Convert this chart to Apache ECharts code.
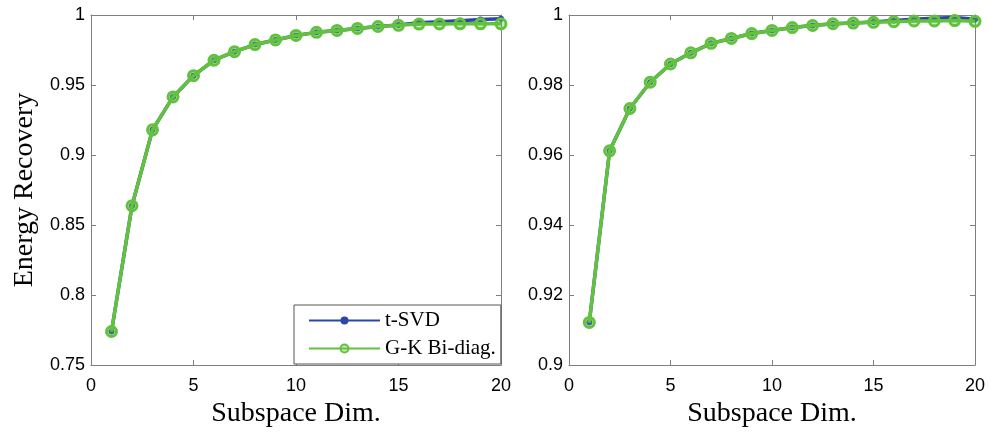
<!DOCTYPE html>
<html>
<head>
<meta charset="utf-8">
<script src="https://cdn.jsdelivr.net/npm/echarts@6/dist/echarts.min.js"></script>
<style>
  html, body { margin: 0; padding: 0; background: #fff; }
  #chart { width: 988px; height: 433px; }
</style>
</head>
<body>
<div id="chart"></div>
<script>
const dims = [1, 2, 3, 4, 5, 6, 7, 8, 9, 10, 11, 12, 13, 14, 15, 16, 17, 18, 19, 20];
const leftSvd = [0.774, 0.8638, 0.918, 0.9415, 0.9567, 0.9677, 0.9738, 0.9789, 0.9822, 0.9854,
  0.9876, 0.989, 0.9904, 0.9918, 0.9928, 0.9944, 0.9951, 0.9959, 0.9967, 0.9974];
const leftGk = [0.774, 0.8638, 0.918, 0.9415, 0.9567, 0.9677, 0.9738, 0.9789, 0.9822, 0.9854,
  0.9876, 0.989, 0.9904, 0.9918, 0.9926, 0.9935, 0.9936, 0.9937, 0.9937, 0.9937];
const rightSvd = [0.9122, 0.9612, 0.9733, 0.9808, 0.986, 0.9892, 0.9919, 0.9933, 0.9947, 0.9956,
  0.9964, 0.997, 0.9975, 0.9977, 0.998, 0.9984, 0.9988, 0.9991, 0.9993, 0.9988];
const rightGk = [0.9122, 0.9612, 0.9733, 0.9808, 0.986, 0.9892, 0.9919, 0.9933, 0.9947, 0.9956,
  0.9964, 0.997, 0.9975, 0.9977, 0.9979, 0.9981, 0.9983, 0.9983, 0.9984, 0.9982];
const seriesNames = ["t-SVD", "G-K Bi-diag."];

const blue = "#2c46a8";
const green = "#62c23e";
const frame = "#7f7f7f";
const serif = "'Liberation Serif', 'DejaVu Serif', serif";
const sans = "'Liberation Sans', Arial, sans-serif";

const fmt = (v) => String(+v.toFixed(2));
const pairs = (ys) => dims.map((x, i) => [x, ys[i]]);

const xAx = (grid, top) => ({
  type: "value", gridIndex: grid, min: 0, max: 20, interval: 5,
  position: top ? "top" : "bottom",
  name: top ? "" : "Subspace Dim.", nameLocation: "middle", nameGap: 33,
  nameTextStyle: { fontFamily: serif, fontSize: 28, color: "#000" },
  axisLine: { show: true, onZero: false, lineStyle: { color: frame, width: 1 } },
  axisTick: { show: true, inside: true, length: 5, lineStyle: { color: frame } },
  axisLabel: { show: !top, margin: 12, fontFamily: sans, fontSize: 18, color: "#000" },
  splitLine: { show: false },
});
const yAx = (grid, right, min, step, name) => ({
  type: "value", gridIndex: grid, min: min, max: 1, interval: step,
  position: right ? "right" : "left",
  name: right ? "" : name, nameLocation: "middle", nameGap: 52,
  nameTextStyle: { fontFamily: serif, fontSize: 28, color: "#000" },
  axisLine: { show: true, onZero: false, lineStyle: { color: frame, width: 1 } },
  axisTick: { show: true, inside: true, length: 5, lineStyle: { color: frame } },
  axisLabel: { show: !right, margin: 6, fontFamily: sans, fontSize: 18, color: "#000", formatter: fmt },
  splitLine: { show: false },
});

const svdSeries = (xi, yi, ys) => ({
  name: seriesNames[0], type: "line", xAxisIndex: xi, yAxisIndex: yi, data: pairs(ys),
  symbol: "circle", symbolSize: 6, z: 2,
  lineStyle: { color: blue, width: 3.5 },
  itemStyle: { color: blue },
});
const gkSeries = (xi, yi, ys) => ({
  name: seriesNames[1], type: "line", xAxisIndex: xi, yAxisIndex: yi, data: pairs(ys),
  symbol: "circle", symbolSize: 10, z: 3,
  lineStyle: { color: green, width: 3.5 },
  itemStyle: { color: "rgba(98,194,62,0.35)", borderColor: green, borderWidth: 3 },
});

const chart = echarts.init(document.getElementById("chart"));
chart.setOption({
  animation: false,
  backgroundColor: "#fff",
  grid: [
    { left: 91, top: 15, width: 410, height: 356 },
    { left: 569, top: 15, width: 408, height: 356 },
  ],
  xAxis: [xAx(0, false), xAx(0, true), xAx(1, false), xAx(1, true)],
  yAxis: [
    yAx(0, false, 0.75, 0.05, "Energy Recovery"), yAx(0, true, 0.75, 0.05, ""),
    yAx(1, false, 0.9, 0.02, ""), yAx(1, true, 0.9, 0.02, ""),
  ],
  legend: {
    data: seriesNames,
    orient: "vertical",
    left: 294, top: 305,
    itemWidth: 71, itemHeight: 10, itemGap: 7,
    padding: [5, 5, 5, 14],
    borderColor: "#555", borderWidth: 1,
    backgroundColor: "#fff",
    textStyle: { fontFamily: serif, fontSize: 21, color: "#000" },
  },
  series: [
    svdSeries(0, 0, leftSvd), gkSeries(0, 0, leftGk),
    svdSeries(2, 2, rightSvd), gkSeries(2, 2, rightGk),
  ],
});
</script>
</body>
</html>
